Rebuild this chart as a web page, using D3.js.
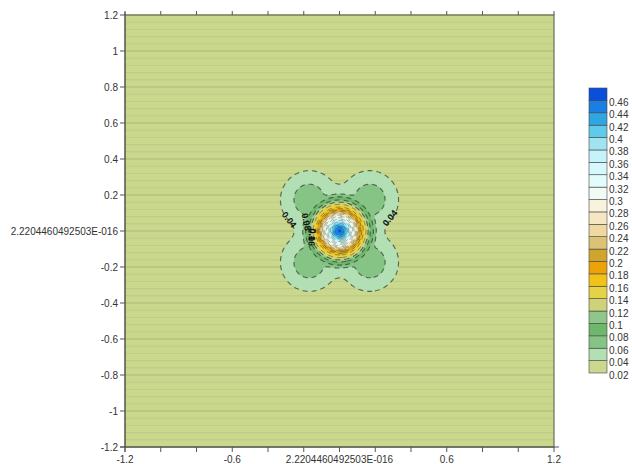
<!DOCTYPE html>
<html><head><meta charset="utf-8">
<script src="https://cdn.jsdelivr.net/npm/d3@7"></script>
<style>
html,body{margin:0;padding:0;background:#fff;}
svg{display:block;font-family:"Liberation Sans",Arial,sans-serif;}
</style></head>
<body><svg id="chart" width="632" height="464"></svg>
<script>
// ---- data ----
const levels = [0.02,0.04,0.06,0.08,0.10,0.12,0.14,0.16,0.18,0.20,0.22,0.24,0.26,0.28,0.30,0.32,0.34,0.36,0.38,0.40,0.42,0.44,0.46];
const levelColors = ["#c9d88d","#b2dfb4","#86c486","#6eb86c","#8fc68c","#cfd278","#e6d245","#f2c21a","#eda20a","#cfa52e",
  "#dcc274","#efd9a0","#f6e7c2","#f8f3dd","#f0fbf4","#e2fbfb","#d6f8fc","#c6f2fa","#a2e3f2","#5fcbea","#2ea6e2","#1a7fe0","#0a4fdc"];
const levelLabels = ["0.02","0.04","0.06","0.08","0.1","0.12","0.14","0.16","0.18","0.2","0.22","0.24","0.26","0.28","0.3","0.32","0.34","0.36","0.38","0.4","0.42","0.44","0.46"];
// central peak: value against distance from the centre
const coreRadii  = [0,0.025,0.04,0.055,0.07,0.085,0.098,0.108,0.12,0.133,0.148,0.16,0.172,0.19,0.205,0.228,0.28,0.50,1.8];
const coreValues = [0.47,0.44,0.41,0.37,0.33,0.29,0.25,0.22,0.19,0.16,0.14,0.12,0.10,0.08,0.06,0.04,0.03,0.024,0.02];
// four diagonal lobes: value against distance from each lobe centre
const lobeCentres = [[0.17,0.175],[-0.17,0.175],[-0.17,-0.175],[0.17,-0.175]];
const lobeRadii  = [0,0.03,0.085,0.158,0.26,0.60,2.0];
const lobeValues = [0.076,0.072,0.06,0.04,0.025,0.018,0.015];
const xTickValues = [-1.2,-1,-0.8,-0.6,-0.4,-0.2,0,0.2,0.4,0.6,0.8,1,1.2];
const xTickLabels = ["-1.2","","","-0.6","","","2.2204460492503E-016","","","0.6","","","1.2"];
const yTickValues = [-1.2,-1,-0.8,-0.6,-0.4,-0.2,0,0.2,0.4,0.6,0.8,1,1.2];
const yTickLabels = ["-1.2","-1","-0.8","-0.6","-0.4","-0.2","2.2204460492503E-016","0.2","0.4","0.6","0.8","1","1.2"];
const contourLabels = [
  {x:-0.285, y:0.06, text:"0.04", angle:52},
  {x:0.285, y:0.07, text:"0.04", angle:-50},
  {x:-0.19, y:0.05, text:"0.08", angle:78},
  {x:-0.16, y:-0.035, text:"0.06", angle:92},
  {x:-0.155, y:-0.02, text:"0.1", angle:95}
];

// ---- layout ----
const svg = d3.select("#chart");
const L = 125, R = 554, T = 15, B = 447;
const x = d3.scaleLinear().domain([-1.2,1.2]).range([L,R]);
const y = d3.scaleLinear().domain([-1.2,1.2]).range([B,T]);

// field: smooth maximum of the core and the four lobes
const core = d3.scaleLinear().domain(coreRadii).range(coreValues).clamp(true);
const lobe = d3.scaleLinear().domain(lobeRadii).range(lobeValues).clamp(true);
const P = 8;
function field(px, py){
  let s = Math.pow(core(Math.hypot(px,py)), P);
  for (const c of lobeCentres) s += Math.pow(lobe(Math.hypot(px-c[0], py-c[1])), P);
  return Math.pow(s, 1/P);
}
const n = 480, step = 2.4/n;
const grid = new Float64Array(n*n);
for (let j=0;j<n;j++) for (let i=0;i<n;i++)
  grid[j*n+i] = field(-1.2+(i+0.5)*step, 1.2-(j+0.5)*step);

const defs = svg.append("defs");
defs.append("clipPath").attr("id","plotclip").append("rect")
  .attr("x",L).attr("y",T).attr("width",R-L).attr("height",B-T);

// background
svg.append("rect").attr("x",L).attr("y",T).attr("width",R-L).attr("height",B-T).attr("fill",levelColors[0]);

// horizontal grid lines every 0.04
const gridVals = d3.range(0,61).map(k => -1.2 + k*0.04);
svg.append("g").selectAll("line").data(gridVals).join("line")
  .attr("x1",L).attr("x2",R)
  .attr("y1",d=>y(d)).attr("y2",d=>y(d))
  .attr("stroke",(d,k)=> k%5===0 ? "#a9b976" : "#bccb86")
  .attr("stroke-width",1);

// contours
const thresholds = levels.slice(1);
const contours = d3.contours().size([n,n]).thresholds(thresholds)(grid);
const proj = d3.geoTransform({point(cx,cy){ this.stream.point(x(-1.2+cx*step), y(1.2-cy*step)); }});
const path = d3.geoPath(proj);
const cg = svg.append("g").attr("clip-path","url(#plotclip)");
cg.selectAll("path.fill").data(contours).join("path")
  .attr("class","fill")
  .attr("d",path)
  .attr("fill",d=>levelColors[levels.findIndex(v=>Math.abs(v-d.value)<1e-9)])
  .attr("stroke","none");
cg.selectAll("path.line").data(contours).join("path")
  .attr("class","line")
  .attr("d",path)
  .attr("fill","none")
  .attr("stroke","#37432f")
  .attr("stroke-opacity",d=> d.value > 0.21 ? 0.45 : (d.value > 0.13 ? 0.6 : 0.75))
  .attr("stroke-width",d=> d.value > 0.13 ? 0.9 : 1.15)
  .attr("stroke-dasharray","5,4");

// contour labels
cg.selectAll("text.cl").data(contourLabels).join("text")
  .attr("class","cl")
  .attr("transform",d=>`translate(${x(d.x)},${y(d.y)}) rotate(${d.angle})`)
  .attr("text-anchor","middle").attr("dominant-baseline","middle")
  .attr("font-size",9).attr("font-weight","bold").attr("fill","#111")
  .text(d=>d.text);

// frame
svg.append("rect").attr("x",L).attr("y",T).attr("width",R-L).attr("height",B-T)
  .attr("fill","none").attr("stroke","#66704f").attr("stroke-width",1.2);

// axes
const tickColor = "#555";
const ax = svg.append("g");
ax.selectAll("line.xb").data(xTickValues).join("line").attr("class","xb")
  .attr("x1",d=>x(d)).attr("x2",d=>x(d)).attr("y1",B).attr("y2",B+5).attr("stroke",tickColor);
ax.selectAll("line.xt").data(xTickValues).join("line").attr("class","xt")
  .attr("x1",d=>x(d)).attr("x2",d=>x(d)).attr("y1",T).attr("y2",T-4).attr("stroke",tickColor);
ax.selectAll("line.yl").data(yTickValues).join("line").attr("class","yl")
  .attr("x1",L-5).attr("x2",L).attr("y1",d=>y(d)).attr("y2",d=>y(d)).attr("stroke",tickColor);
ax.append("line").attr("x1",L-5).attr("x2",R+5).attr("y1",B).attr("y2",B).attr("stroke",tickColor);
ax.append("line").attr("x1",L).attr("x2",L).attr("y1",T-3).attr("y2",B+5).attr("stroke",tickColor);

ax.selectAll("text.xl").data(xTickValues).join("text").attr("class","xl")
  .attr("x",d=>x(d)).attr("y",B+16).attr("text-anchor","middle")
  .attr("font-size",10).attr("fill","#333")
  .text((d,k)=>xTickLabels[k]);
ax.selectAll("text.yl").data(yTickValues).join("text").attr("class","yl")
  .attr("x",L-7).attr("y",d=>y(d)).attr("dy","0.35em").attr("text-anchor","end")
  .attr("font-size",10).attr("fill","#333")
  .text((d,k)=>yTickLabels[k]);

// colour bar
const cbX = 589, cbW = 18;
const cy = d3.scaleLinear().domain([0.02,0.48]).range([373,88]);
const cb = svg.append("g");
cb.selectAll("rect").data(levels).join("rect")
  .attr("x",cbX).attr("width",cbW)
  .attr("y",d=>cy(d+0.02)).attr("height",d=>cy(d)-cy(d+0.02))
  .attr("fill",(d,k)=>levelColors[k])
  .attr("stroke","#444").attr("stroke-width",0.6);
cb.selectAll("text").data(levels).join("text")
  .attr("x",cbX+cbW+2).attr("y",d=>cy(d)+2).attr("dy","0.35em")
  .attr("font-size",10).attr("fill","#333")
  .text((d,k)=>levelLabels[k]);
</script></body></html>
